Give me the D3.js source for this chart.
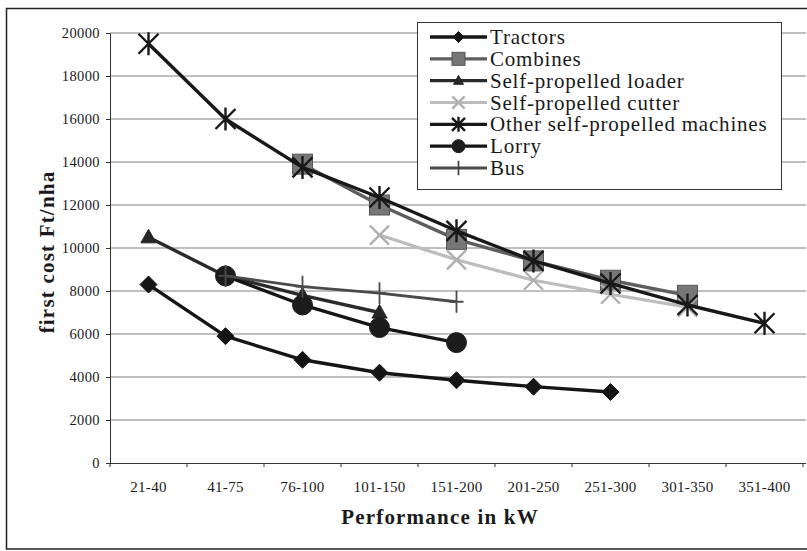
<!DOCTYPE html>
<html>
<head>
<meta charset="utf-8">
<script src="https://cdn.jsdelivr.net/npm/d3@7"></script>
<style>
  html, body { margin: 0; padding: 0; background: #fff; }
  svg { display: block; }
  text { font-family: "Liberation Serif", "Times New Roman", serif; fill: #1a1a1a; }
</style>
</head>
<body>
<svg id="chart" width="807" height="551"></svg>
<script>
// ---- data ----
const categories = ["21-40", "41-75", "76-100", "101-150", "151-200", "201-250", "251-300", "301-350", "351-400"];
const tractors = [8300, 5900, 4800, 4200, 3850, 3550, 3300, null, null];
const combines = [null, null, 13900, 12000, 10400, 9400, 8500, 7800, null];
const loader   = [10500, 8700, 7800, 7000, null, null, null, null, null];
const cutter   = [null, null, null, 10600, 9450, 8500, 7850, 7250, null];
const other    = [19500, 16000, 13750, 12350, 10800, 9400, 8350, 7350, 6500];
const lorry    = [null, 8700, 7350, 6300, 5600, null, null, null, null];
const bus      = [null, 8700, 8200, 7900, 7500, null, null, null, null];
const yTicks = [0, 2000, 4000, 6000, 8000, 10000, 12000, 14000, 16000, 18000, 20000];
const seriesNames = ["Tractors", "Combines", "Self-propelled loader", "Self-propelled cutter", "Other self-propelled machines", "Lorry", "Bus"];
const yTitle = "first cost Ft/nha";
const xTitle = "Performance in kW";

// ---- styles ----
const styles = [
  { values: tractors, marker: "diamond",  line: "#151515", fill: "#151515", stroke: "#151515", width: 3.4 },
  { values: combines, marker: "square",   line: "#5e5e5e", fill: "#777",    stroke: "#555",    width: 3.4 },
  { values: loader,   marker: "triangle", line: "#2a2a2a", fill: "#262626", stroke: "#262626", width: 3.4 },
  { values: cutter,   marker: "x",        line: "#bcbcbc", fill: "none",    stroke: "#b0b0b0", width: 3.2 },
  { values: other,    marker: "star",     line: "#181818", fill: "none",    stroke: "#181818", width: 3.4 },
  { values: lorry,    marker: "circle",   line: "#151515", fill: "#1c1c1c", stroke: "#1c1c1c", width: 3.4 },
  { values: bus,      marker: "plus",     line: "#4a4a4a", fill: "none",    stroke: "#4a4a4a", width: 2.8 }
];

const svg = d3.select("#chart");
const plotLeft = 110, plotRight = 803, plotTop = 33, plotBottom = 463;

const x = d3.scaleBand().domain(categories).range([plotLeft, plotRight]).padding(0);
const y = d3.scaleLinear().domain([0, 20000]).range([plotBottom, plotTop]);
const cx = c => x(c) + x.bandwidth() / 2;

// outer frame
svg.append("path")
  .attr("d", `M 830 8.5 L 6.5 8.5 L 6.5 549 L 830 549`)
  .attr("fill", "none").attr("stroke", "#222").attr("stroke-width", 1.5);

// gridlines
svg.append("g").selectAll("line").data(yTicks.filter(d => d > 0)).join("line")
  .attr("x1", plotLeft).attr("x2", 806)
  .attr("y1", d => y(d)).attr("y2", d => y(d))
  .attr("stroke", "#808080").attr("stroke-width", 1);

// y axis
const yAxis = svg.append("g").attr("transform", `translate(${plotLeft},0)`)
  .call(d3.axisLeft(y).tickValues(yTicks).tickSize(4).tickPadding(6).tickFormat(d3.format("d")));
yAxis.attr("font-family", "Liberation Serif");
yAxis.select(".domain").attr("stroke", "#333");
yAxis.selectAll(".tick line").attr("stroke", "#333");
yAxis.selectAll(".tick text").attr("font-size", 14.5).attr("letter-spacing", 0.4)
  .attr("font-family", "Liberation Serif").attr("fill", "#1a1a1a");

// x axis: labels centred, ticks at band boundaries
const xAxis = svg.append("g").attr("transform", `translate(0,${plotBottom})`)
  .call(d3.axisBottom(x).tickSize(0).tickPadding(18));
xAxis.attr("font-family", "Liberation Serif");
xAxis.select(".domain").attr("stroke", "#333").attr("d", `M${plotLeft},0.5H806`);
xAxis.selectAll(".tick text").attr("font-size", 15).attr("letter-spacing", 0.3)
  .attr("font-family", "Liberation Serif").attr("fill", "#1a1a1a");
const bounds = categories.map(c => x(c)).concat([x.range()[1]]);
svg.append("g").selectAll("line").data(bounds).join("line")
  .attr("x1", d => d).attr("x2", d => d)
  .attr("y1", plotBottom).attr("y2", plotBottom + 4)
  .attr("stroke", "#333");

// titles
svg.append("text")
  .attr("x", 440).attr("y", 524).attr("text-anchor", "middle")
  .attr("font-size", 21).attr("font-weight", "bold").attr("letter-spacing", 1.2)
  .text(xTitle);
svg.append("text")
  .attr("transform", "translate(54,252) rotate(-90)").attr("text-anchor", "middle")
  .attr("font-size", 21).attr("font-weight", "bold").attr("letter-spacing", 1.2)
  .text(yTitle);

// marker drawing
function drawMarker(g, type, px, py, s, st) {
  const sw = 2.4;
  switch (type) {
    case "diamond":
      g.append("path").attr("d", `M${px},${py - s} L${px + s},${py} L${px},${py + s} L${px - s},${py} Z`)
        .attr("fill", st.fill).attr("stroke", st.stroke).attr("stroke-width", 1);
      break;
    case "square":
      g.append("rect").attr("x", px - s).attr("y", py - s).attr("width", 2 * s).attr("height", 2 * s)
        .attr("fill", st.fill).attr("stroke", st.stroke).attr("stroke-width", 1);
      break;
    case "triangle":
      g.append("path").attr("d", `M${px},${py - s} L${px + s * 0.95},${py + s * 0.7} L${px - s * 0.95},${py + s * 0.7} Z`)
        .attr("fill", st.fill).attr("stroke", st.stroke).attr("stroke-width", 1);
      break;
    case "circle":
      g.append("circle").attr("cx", px).attr("cy", py).attr("r", s)
        .attr("fill", st.fill).attr("stroke", st.stroke).attr("stroke-width", 1);
      break;
    case "x":
      g.append("path").attr("d", `M${px - s},${py - s} L${px + s},${py + s} M${px - s},${py + s} L${px + s},${py - s}`)
        .attr("fill", "none").attr("stroke", st.stroke).attr("stroke-width", sw);
      break;
    case "star":
      g.append("path").attr("d", `M${px - s},${py - s} L${px + s},${py + s} M${px - s},${py + s} L${px + s},${py - s} M${px},${py - s * 1.15} L${px},${py + s * 1.15}`)
        .attr("fill", "none").attr("stroke", st.stroke).attr("stroke-width", sw);
      break;
    case "plus":
      g.append("path").attr("d", `M${px - s * 0.7},${py} L${px + s * 0.7},${py} M${px},${py - s * 1.1} L${px},${py + s * 1.1}`)
        .attr("fill", "none").attr("stroke", st.stroke).attr("stroke-width", 1.8);
      break;
  }
}
const markerSize = { diamond: 8.5, square: 10, triangle: 8, circle: 10, x: 9.5, star: 10, plus: 10 };

// series
const line = d3.line().defined(d => d.v != null).x(d => cx(d.c)).y(d => y(d.v));
styles.forEach(st => {
  const g = svg.append("g");
  const pts = categories.map((c, i) => ({ c, v: st.values[i] }));
  g.append("path").datum(pts).attr("d", line)
    .attr("fill", "none").attr("stroke", st.line).attr("stroke-width", st.width)
    .attr("stroke-linejoin", "round");
  pts.filter(d => d.v != null).forEach(d => drawMarker(g, st.marker, cx(d.c), y(d.v), markerSize[st.marker], st));
});

// legend
const lg = svg.append("g");
lg.append("rect").attr("x", 417.5).attr("y", 22.5).attr("width", 364).attr("height", 167)
  .attr("fill", "#fff").attr("stroke", "#333").attr("stroke-width", 1);
const rowY = d3.scaleLinear().domain([0, 6]).range([37, 168]);
seriesNames.forEach((name, i) => {
  const st = styles[i];
  const yy = rowY(i);
  lg.append("line").attr("x1", 430).attr("x2", 487).attr("y1", yy).attr("y2", yy)
    .attr("stroke", st.line).attr("stroke-width", st.width);
  drawMarker(lg, st.marker, 458.5, yy, markerSize[st.marker] * 0.65, st);
  lg.append("text").attr("x", 490).attr("y", yy).attr("dy", "0.34em")
    .attr("font-size", 21).attr("letter-spacing", 0.8).text(name);
});
</script>
</body>
</html>
